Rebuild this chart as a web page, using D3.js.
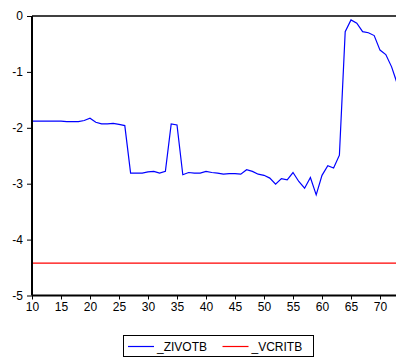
<!DOCTYPE html>
<html><head><meta charset="utf-8">
<script src="https://cdn.jsdelivr.net/npm/d3@7"></script>
<style>body{margin:0;background:#fff}svg{display:block}text{font-family:"Liberation Sans",Arial,sans-serif}</style>
</head><body>
<svg id="c" width="396" height="358"></svg>
<script>
const years = d3.range(10, 74);
const zivotb = [-1.88,-1.88,-1.88,-1.88,-1.88,-1.88,-1.89,-1.89,-1.89,-1.87,
  -1.83,-1.90,-1.93,-1.93,-1.92,-1.94,-1.96,-2.81,-2.81,-2.81,
  -2.79,-2.78,-2.81,-2.78,-1.93,-1.95,-2.84,-2.80,-2.81,-2.81,
  -2.78,-2.80,-2.81,-2.83,-2.82,-2.82,-2.83,-2.75,-2.78,-2.83,
  -2.85,-2.90,-3.01,-2.91,-2.93,-2.80,-2.96,-3.08,-2.89,-3.20,
  -2.85,-2.68,-2.72,-2.49,-0.28,-0.07,-0.13,-0.28,-0.30,-0.35,
  -0.61,-0.69,-0.91,-1.22];
const vcritb = years.map(() => -4.42);
const xTicks = [10,15,20,25,30,35,40,45,50,55,60,65,70];
const yTicks = [0,-1,-2,-3,-4,-5];
const seriesNames = ["_ZIVOTB","_VCRITB"];
const colors = ["#0000ff","#ff0000"];

const svg = d3.select("#c");
const x = d3.scaleLinear().domain([10,73]).range([32,397.4]);
const y = d3.scaleLinear().domain([-5,0]).range([295.5,16]);

// top frame line
svg.append("line").attr("x1",32).attr("x2",396).attr("y1",y(0)).attr("y2",y(0))
  .attr("stroke","#000").attr("stroke-width",1.3);

const line = d3.line().x((d,i)=>x(years[i])).y(d=>y(d));
svg.append("path").datum(vcritb).attr("d",line).attr("fill","none")
  .attr("stroke",colors[1]).attr("stroke-width",1.3);
svg.append("path").datum(zivotb).attr("d",line).attr("fill","none")
  .attr("stroke",colors[0]).attr("stroke-width",1.2);

const fmt = d => String(d);
const yAxis = svg.append("g").attr("transform","translate(32,0)")
  .call(d3.axisLeft(y).tickValues(yTicks).tickSize(5).tickPadding(4).tickFormat(fmt));
const xAxis = svg.append("g").attr("transform",`translate(0,${y(-5)})`)
  .call(d3.axisBottom(x).tickValues(xTicks).tickSize(4).tickPadding(3).tickFormat(fmt));
[yAxis,xAxis].forEach(g=>{
  g.select(".domain").attr("stroke","#000").attr("stroke-width",2);
  g.selectAll(".tick line").attr("stroke","#000");
  g.selectAll("text").attr("fill","#000").style("font-size","12px")
    .style("font-family","'Liberation Sans',Arial,sans-serif");
});
yAxis.select(".domain").attr("d",`M0,${y(0)}V${y(-5)}`);
xAxis.select(".domain").attr("d",`M32,0H396`);

// legend
const lg = svg.append("g");
lg.append("rect").attr("x",123.5).attr("y",335.5).attr("width",190).attr("height",21)
  .attr("fill","#fff").attr("stroke","#000").attr("stroke-width",1);
const lx = [128,222.5];
seriesNames.forEach((n,i)=>{
  lg.append("line").attr("x1",lx[i]).attr("x2",lx[i]+26).attr("y1",346.5).attr("y2",346.5)
    .attr("stroke",colors[i]).attr("stroke-width",1.2);
  lg.append("text").attr("x",lx[i]+29).attr("y",351).text(n).style("font-size","12px").attr("fill","#000");
});
</script>
</body></html>
